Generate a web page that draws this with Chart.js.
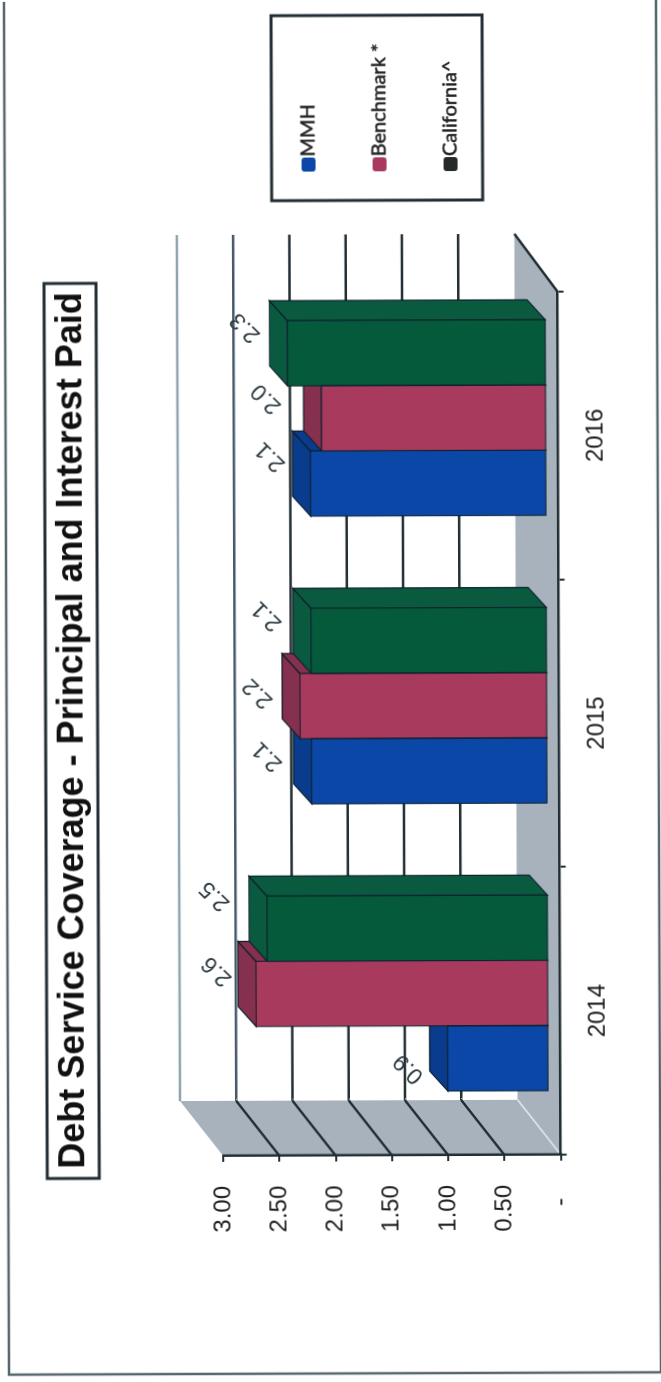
<!DOCTYPE html>
<html>
<head>
<meta charset="utf-8">
<title>Debt Service Coverage</title>
<script src="https://cdn.jsdelivr.net/npm/chart.js"></script>
<style>
  html, body { margin: 0; background: #fff; overflow: hidden; width: 661px; height: 1382px; }
  /* chart is laid out landscape and turned on its side */
  #chart { position: absolute; left: -360.5px; top: 360.5px; transform: rotate(-90.21deg); }
</style>
</head>
<body>
<canvas id="chart" width="1382" height="661"></canvas>
<script>
const titleText = 'Debt Service Coverage - Principal and Interest Paid';
const categories = ['2014', '2015', '2016'];
const mmhValues = [0.9, 2.1, 2.1];
const benchmarkValues = [2.6, 2.2, 2.0];
const californiaValues = [2.5, 2.1, 2.3];
const seriesNames = ['MMH', 'Benchmark *', 'California^'];
const tickLabels = ['-  ', '0.50', '1.00', '1.50', '2.00', '2.50', '3.00'];

const fronts = ['#0a47a6', '#a83a5d', '#065a3c'];
const depths = ['#0a3c8e', '#85304f', '#0a5a40'];
const swatches = ['#0a47a6', '#a83a5d', '#262a2a'];
const ink = '#222e34';
const edge = '#0d1f2b';
const wallGray = '#a8b2bc';

// how far the back wall and the bars sit behind the axis plane
const WALL_DX = 55, WALL_DY = -43;
const BAR_DX = 20, BAR_DY = -18;
const BAR_SHIFT_X = 18, BAR_SHIFT_Y = -11.5;

// hand placed value labels, per series then per year
const labelNudges = [
  [[-30, 3], [-5, -2], [7, 2]],
  [[3, 3], [-7, 0], [0, -13]],
  [[13, -10], [5, -2], [6, 0]]
];

function poly(ctx, pts, fill, stroke) {
  ctx.beginPath();
  pts.forEach((p, i) => i ? ctx.lineTo(p[0], p[1]) : ctx.moveTo(p[0], p[1]));
  ctx.closePath();
  ctx.fillStyle = fill;
  ctx.fill();
  if (stroke) {
    ctx.strokeStyle = stroke;
    ctx.lineWidth = 1.2;
    ctx.stroke();
  }
}

function line(ctx, x1, y1, x2, y2, color, width) {
  ctx.beginPath();
  ctx.moveTo(x1, y1);
  ctx.lineTo(x2, y2);
  ctx.strokeStyle = color;
  ctx.lineWidth = width;
  ctx.stroke();
}

// page frame, boxed title, legend box
const framePlugin = {
  id: 'frame',
  beforeDraw(chart) {
    const ctx = chart.ctx;
    ctx.save();
    ctx.strokeStyle = '#55666d';
    ctx.lineWidth = 2.5;
    ctx.beginPath();
    ctx.moveTo(1400, 6);
    ctx.lineTo(9, 6);
    ctx.lineTo(9, 658);
    ctx.lineTo(1400, 658);
    ctx.stroke();

    ctx.strokeStyle = ink;
    ctx.lineWidth = 3;
    ctx.strokeRect(205, 45, 895, 52);
    ctx.fillStyle = '#111';
    ctx.font = 'bold 36px "Liberation Sans"';
    ctx.textAlign = 'center';
    ctx.textBaseline = 'middle';
    ctx.fillText(titleText, 653, 72);

    ctx.strokeRect(1182, 273, 185, 211);
    ctx.font = '20px Lato';
    ctx.textAlign = 'left';
    seriesNames.forEach((name, i) => {
      const y = 310 + i * 71;
      ctx.fillStyle = swatches[i];
      ctx.beginPath();
      ctx.roundRect(1211, y - 7, 14, 14, 3);
      ctx.fill();
      ctx.fillStyle = '#222';
      ctx.strokeStyle = '#222';
      ctx.lineWidth = 0.5;
      ctx.fillText(name, 1226, y);
      ctx.strokeText(name, 1226, y);
    });
    ctx.restore();
  }
};

// side wall, floor and back wall gridlines
const wallsPlugin = {
  id: 'walls',
  beforeDraw(chart) {
    const ctx = chart.ctx, a = chart.chartArea, y = chart.scales.y;
    ctx.save();
    const y0 = y.getPixelForValue(0), yTop = y.getPixelForValue(3);
    poly(ctx, [[a.left, yTop], [a.left, y0], [a.left + WALL_DX, y0 + WALL_DY], [a.left + WALL_DX, yTop + WALL_DY]], wallGray);
    poly(ctx, [[a.left, y0], [a.right, y0], [a.right + WALL_DX + 3, y0 + WALL_DY], [a.left + WALL_DX, y0 + WALL_DY]], wallGray);
    for (let v = 0.5; v <= 3; v += 0.5) {
      const py = y.getPixelForValue(v);
      const color = v === 3 ? '#8fa3b0' : v === 2.5 ? '#46596a' : ink;
      line(ctx, a.left + WALL_DX, py + WALL_DY, a.right + WALL_DX + 3, py + WALL_DY, color, 2.5);
      if (v < 3) {
        line(ctx, a.left + 2, py, a.left + WALL_DX + 2, py + WALL_DY, '#d5dce2', 1);
        line(ctx, a.left, py, a.left + WALL_DX, py + WALL_DY, ink, 2.5);
      }
    }
    line(ctx, a.left, y0, a.left + WALL_DX, y0 + WALL_DY, '#e3e8ec', 1.5);
    line(ctx, a.right, y0, a.right + WALL_DX + 3, y0 + WALL_DY, ink, 2.5);
    ctx.restore();
  }
};

// top and side faces go under the native bars, which act as the front faces
const depthPlugin = {
  id: 'depth',
  beforeDatasetsDraw(chart) {
    const ctx = chart.ctx;
    ctx.save();
    ctx.translate(BAR_SHIFT_X, BAR_SHIFT_Y);
    chart.data.datasets.forEach((ds, i) => {
      chart.getDatasetMeta(i).data.forEach(bar => {
        const l = bar.x - bar.width / 2, r = bar.x + bar.width / 2;
        poly(ctx, [[l, bar.y], [r, bar.y], [r + BAR_DX, bar.y + BAR_DY], [l + BAR_DX, bar.y + BAR_DY]], depths[i], edge);
        poly(ctx, [[r, bar.y], [r, bar.base], [r + BAR_DX, bar.base + BAR_DY], [r + BAR_DX, bar.y + BAR_DY]], depths[i], edge);
      });
    });
  },
  afterDatasetsDraw(chart) {
    const ctx = chart.ctx;
    // front face edges, still in the shifted bar plane
    chart.data.datasets.forEach((ds, i) => {
      chart.getDatasetMeta(i).data.forEach(bar => {
        ctx.strokeStyle = edge;
        ctx.lineWidth = 1;
        ctx.strokeRect(bar.x - bar.width / 2, bar.y, bar.width, bar.base - bar.y);
      });
    });
    ctx.restore();

    ctx.save();
    ctx.fillStyle = '#2c3a40';
    ctx.font = '23px "Liberation Sans"';
    ctx.textAlign = 'center';
    ctx.textBaseline = 'middle';
    chart.data.datasets.forEach((ds, i) => {
      chart.getDatasetMeta(i).data.forEach((bar, j) => {
        const nudge = labelNudges[i][j];
        ctx.save();
        ctx.translate(bar.x + BAR_SHIFT_X + 20 + nudge[0], bar.y + BAR_SHIFT_Y - 42 + nudge[1]);
        ctx.rotate(-Math.PI / 4);
        ctx.fillText(ds.data[j].toFixed(1), 0, 0);
        ctx.restore();
      });
    });
    ctx.restore();
  }
};

new Chart(document.getElementById('chart'), {
  type: 'bar',
  data: {
    labels: categories,
    datasets: [mmhValues, benchmarkValues, californiaValues].map((values, i) => ({
      label: seriesNames[i],
      data: values,
      backgroundColor: fronts[i],
      borderWidth: 0,
      clip: false
    }))
  },
  options: {
    responsive: false,
    animation: false,
    events: [],
    barPercentage: 1,
    categoryPercentage: 0.68,
    layout: { padding: { left: 127, right: 292, top: 221, bottom: 42.4 } },
    plugins: { legend: { display: false }, title: { display: false }, tooltip: { enabled: false } },
    scales: {
      x: {
        afterFit(scale) { scale.height = 60; },
        grid: { drawOnChartArea: false, color: ink, tickLength: 6, lineWidth: 2 },
        border: { color: ink, width: 2.5 },
        ticks: { color: '#1c1c1c', padding: 17, font: { family: 'Liberation Sans', size: 24 } }
      },
      y: {
        min: 0,
        max: 3,
        afterFit(scale) { scale.width = 100; },
        grid: { drawOnChartArea: false, color: ink, tickLength: 6, lineWidth: 2 },
        border: { color: ink, width: 2.5 },
        ticks: {
          stepSize: 0.5,
          color: '#1c1c1c',
          padding: 24,
          font: { family: 'Liberation Sans', size: 24 },
          callback: (value, i) => tickLabels[i]
        }
      }
    }
  },
  plugins: [framePlugin, wallsPlugin, depthPlugin]
});
</script>
</body>
</html>
